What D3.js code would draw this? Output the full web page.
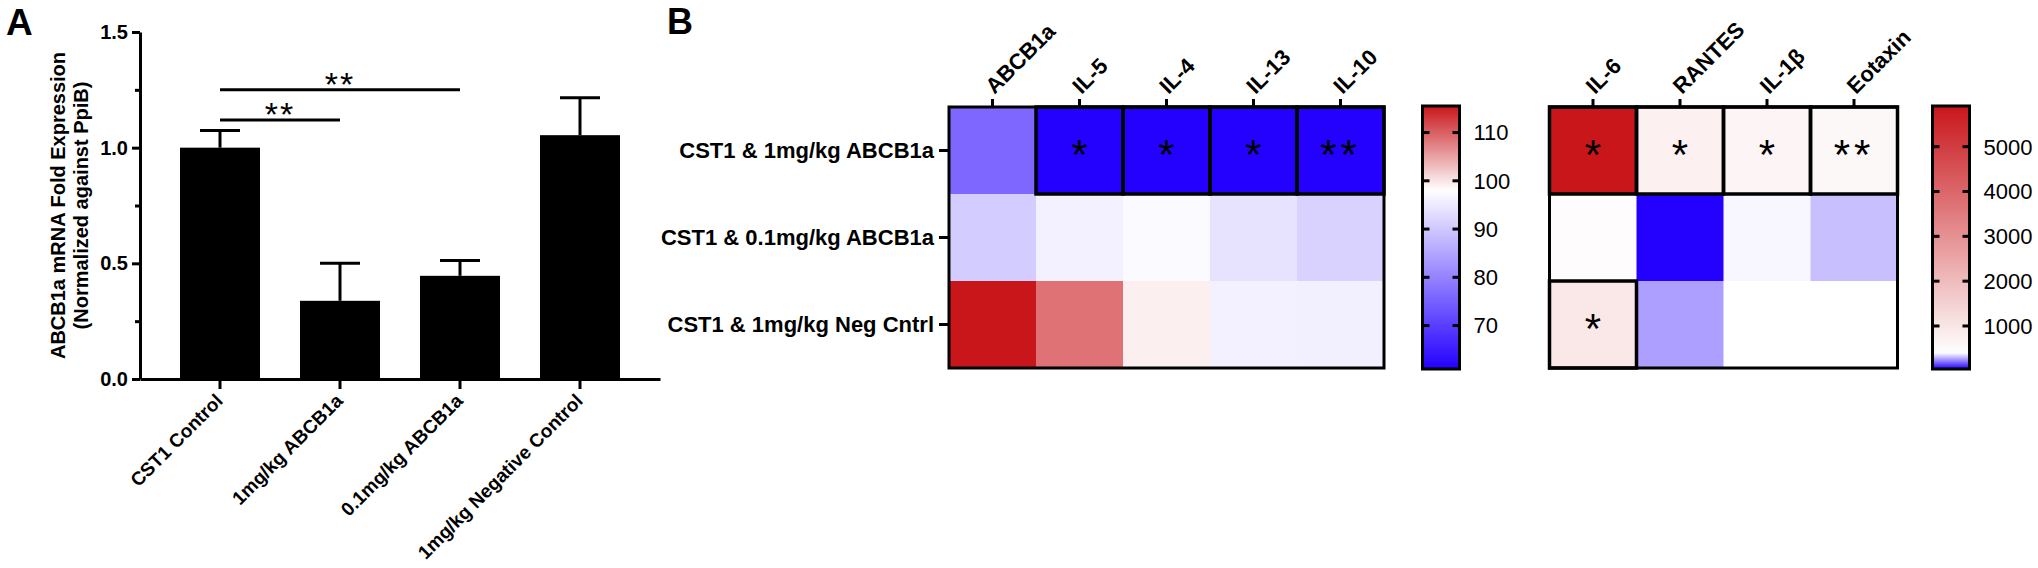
<!DOCTYPE html>
<meta charset="utf-8">
<style>
  body { margin: 0; background: #fff; }
  svg { display: block; font-family: "Liberation Sans", Arial, Helvetica, sans-serif; }
  .axis path, .axis line { stroke: #000; stroke-width: 3; }
</style>
<body>
<div id="chart"></div>
<script src="https://cdn.jsdelivr.net/npm/d3@7"></script>
<script>

// ---- panel A : ABCB1a knockdown (bar chart)
var groups = ["CST1 Control", "1mg/kg ABCB1a", "0.1mg/kg ABCB1a", "1mg/kg Negative Control"];
var foldExpr = [1.0, 0.338, 0.446, 1.054];
var errTop = [1.074, 0.5, 0.512, 1.216];
var yTicks = [0, 0.5, 1.0, 1.5];
var yMinor = [0.25, 0.75, 1.25];
// comparisons: [group a, group b, bar height, label]
var sigPairs = [[0, 1, 1.12, "**"], [0, 2, 1.25, "**"]];

// ---- panel B : heatmaps
var rowLabels = ["CST1 & 1mg/kg ABCB1a", "CST1 & 0.1mg/kg ABCB1a", "CST1 & 1mg/kg Neg Cntrl"];
var genes1 = ["ABCB1a", "IL-5", "IL-4", "IL-13", "IL-10"];
var heat1 = [
  [76, 61, 61, 61, 61],
  [90.6, 96, 97.3, 94, 91.5],
  [115.5, 108.6, 99.2, 96, 95.8]
];
var stars1 = [
  ["", "*", "*", "*", "**"],
  ["", "", "", "", ""],
  ["", "", "", "", ""]
];
var genes2 = ["IL-6", "RANTES", "IL-1β", "Eotaxin"];
var heat2 = [
  [5900, 750, 650, 565],
  [480, 40, 389, 310],
  [950, 264, 400, 405]
];
var stars2 = [
  ["*", "*", "*", "**"],
  ["", "", "", ""],
  ["*", "", "", ""]
];
var legend1 = [70, 80, 90, 100, 110];
var legend2 = [1000, 2000, 3000, 4000, 5000];

var width = 2038, height = 568;

var svg = d3.select("#chart").append("svg")
    .attr("width", width)
    .attr("height", height);

svg.append("rect").attr("width", width).attr("height", height).attr("fill", "#fff");

// panel letters
svg.append("text").attr("x", 6).attr("y", 35)
    .attr("font-size", 37).attr("font-weight", "bold").text("A");
svg.append("text").attr("x", 667).attr("y", 34)
    .attr("font-size", 36).attr("font-weight", "bold").text("B");

// ================= bar chart =================
var x = d3.scaleBand()
    .domain(groups)
    .range([140, 660])
    .paddingInner(1 / 3)
    .paddingOuter(1 / 3);

var y = d3.scaleLinear()
    .domain([0, 1.5])
    .range([379, 32]);

var gA = svg.append("g");

gA.selectAll("rect.bar")
    .data(groups)
  .enter().append("rect")
    .attr("class", "bar")
    .attr("x", function(d) { return x(d); })
    .attr("width", x.bandwidth())
    .attr("y", function(d, i) { return y(foldExpr[i]); })
    .attr("height", function(d, i) { return y(0) - y(foldExpr[i]); })
    .attr("fill", "#000");

// error bars (upper only)
var eb = gA.selectAll("g.err")
    .data(groups)
  .enter().append("g")
    .attr("class", "err")
    .attr("stroke", "#000")
    .attr("stroke-width", 3);
eb.append("line")
    .attr("x1", function(d) { return x(d) + x.bandwidth() / 2; })
    .attr("x2", function(d) { return x(d) + x.bandwidth() / 2; })
    .attr("y1", function(d, i) { return y(foldExpr[i]); })
    .attr("y2", function(d, i) { return y(errTop[i]); });
eb.append("line")
    .attr("x1", function(d) { return x(d) + x.bandwidth() / 4; })
    .attr("x2", function(d) { return x(d) + x.bandwidth() * 3 / 4; })
    .attr("y1", function(d, i) { return y(errTop[i]); })
    .attr("y2", function(d, i) { return y(errTop[i]); });

// y axis
var yAxis = gA.append("g")
    .attr("class", "axis")
    .attr("transform", "translate(140,0)")
    .call(d3.axisLeft(y).tickValues(yTicks).tickFormat(d3.format(".1f")).tickSize(8).tickSizeOuter(0));
yAxis.selectAll("text")
    .attr("font-size", 20).attr("font-weight", "bold").attr("fill", "#000")
    .attr("font-family", "Liberation Sans, Arial, sans-serif")
    .attr("x", -12);
gA.append("g")
    .attr("class", "axis")
    .attr("transform", "translate(140,0)")
    .call(d3.axisLeft(y).tickValues(yMinor).tickFormat("").tickSize(5).tickSizeOuter(0))
    .select(".domain").remove();

// x axis
var xAxis = gA.append("g")
    .attr("class", "axis")
    .attr("transform", "translate(0," + y(0) + ")")
    .call(d3.axisBottom(x).tickSize(10).tickSizeOuter(0));
xAxis.selectAll("text")
    .attr("font-size", 19).attr("font-weight", "bold").attr("fill", "#000")
    .attr("font-family", "Liberation Sans, Arial, sans-serif")
    .attr("text-anchor", "end")
    .attr("x", 0).attr("y", 0).attr("dy", 0)
    .attr("transform", "translate(4,23) rotate(-45)");

// y title
var titleY = (y(0) + y(1.5)) / 2;
gA.append("text")
    .attr("transform", "translate(65," + titleY + ") rotate(-90)")
    .attr("text-anchor", "middle")
    .attr("font-size", 20).attr("font-weight", "bold")
    .text("ABCB1a mRNA Fold Expression");
gA.append("text")
    .attr("transform", "translate(88," + titleY + ") rotate(-90)")
    .attr("text-anchor", "middle")
    .attr("font-size", 20).attr("font-weight", "bold")
    .text("(Normalized against PpiB)");

// significance bars
var sig = gA.selectAll("g.sig")
    .data(sigPairs)
  .enter().append("g")
    .attr("class", "sig");
sig.append("line")
    .attr("x1", function(d) { return x(groups[d[0]]) + x.bandwidth() / 2; })
    .attr("x2", function(d) { return x(groups[d[1]]) + x.bandwidth() / 2; })
    .attr("y1", function(d) { return y(d[2]); })
    .attr("y2", function(d) { return y(d[2]); })
    .attr("stroke", "#000").attr("stroke-width", 3);
sig.append("text")
    .attr("x", function(d) { return (x(groups[d[0]]) + x(groups[d[1]])) / 2 + x.bandwidth() / 2; })
    .attr("y", function(d) { return y(d[2]) - 13 + 0.575 * 34; })
    .attr("text-anchor", "middle")
    .attr("font-size", 34)
    .attr("letter-spacing", 2)
    .text(function(d) { return d[3]; });

// ================= heatmaps =================
var blue = "#2400ff", white = "#ffffff", red = "#c8161b";
var color1 = d3.scaleLinear().domain([61, 98, 115.5]).range([blue, white, red]).clamp(true);
var color2 = d3.scaleLinear().domain([40, 400, 5908]).range([blue, white, red]).clamp(true);

var yRow = d3.scaleBand().domain(rowLabels).range([107, 368]);

function heatmap(x0, genes, data, stars, color, showRows) {
  var cell = yRow.bandwidth();
  var xc = d3.scaleBand().domain(genes).range([x0, x0 + cell * genes.length]);
  var g = svg.append("g");

  data.forEach(function(row, r) {
    g.selectAll(null)
        .data(row)
      .enter().append("rect")
        .attr("x", function(d, c) { return xc(genes[c]); })
        .attr("y", yRow(rowLabels[r]))
        .attr("width", xc.bandwidth() + 0.5)
        .attr("height", cell + 0.5)
        .attr("fill", function(d) { return color(d); });
  });

  // outer frame
  g.append("rect")
      .attr("x", xc.range()[0]).attr("y", yRow.range()[0])
      .attr("width", xc.range()[1] - xc.range()[0])
      .attr("height", yRow.range()[1] - yRow.range()[0])
      .attr("fill", "none").attr("stroke", "#000").attr("stroke-width", 3);

  // significance boxes + stars
  stars.forEach(function(row, r) {
    row.forEach(function(s, c) {
      if (!s) return;
      g.append("rect")
          .attr("x", xc(genes[c])).attr("y", yRow(rowLabels[r]))
          .attr("width", xc.bandwidth()).attr("height", cell)
          .attr("fill", "none").attr("stroke", "#000").attr("stroke-width", 3.5);
      g.append("text")
          .attr("x", xc(genes[c]) + xc.bandwidth() / 2)
          .attr("y", yRow(rowLabels[r]) + cell / 2 - 6 + 0.575 * 42)
          .attr("text-anchor", "middle")
          .attr("font-size", 42)
          .attr("letter-spacing", s.length > 1 ? 4 : 0)
          .text(s);
    });
  });

  // column labels
  var top = g.append("g")
      .attr("class", "axis")
      .attr("transform", "translate(0," + yRow.range()[0] + ")")
      .call(d3.axisTop(xc).tickSize(8).tickSizeOuter(0));
  top.select(".domain").remove();
  top.selectAll("text")
      .attr("font-size", 22).attr("font-weight", "bold").attr("fill", "#000")
      .attr("font-family", "Liberation Sans, Arial, sans-serif")
      .attr("text-anchor", "start")
      .attr("x", 0).attr("y", 0).attr("dy", 0)
      .attr("transform", "translate(2,-12) rotate(-45)");

  if (showRows) {
    var left = g.append("g")
        .attr("class", "axis")
        .attr("transform", "translate(" + xc.range()[0] + ",0)")
        .call(d3.axisLeft(yRow).tickSize(10).tickSizeOuter(0));
    left.select(".domain").remove();
    left.selectAll("text")
        .attr("font-size", 22).attr("font-weight", "bold").attr("fill", "#000")
        .attr("font-family", "Liberation Sans, Arial, sans-serif")
        .attr("x", -15);
  }
}

function colorLegend(id, x0, color, ticks) {
  var dom = color.domain();
  var ys = d3.scaleLinear().domain([dom[0], dom[dom.length - 1]]).range([369, 106]);
  var grad = svg.append("defs").append("linearGradient")
      .attr("id", id)
      .attr("x1", 0).attr("y1", 1).attr("x2", 0).attr("y2", 0);
  d3.range(0, 1.0001, 0.02).forEach(function(t) {
    grad.append("stop")
        .attr("offset", t)
        .attr("stop-color", color(ys.invert(369 - t * 263)));
  });
  var g = svg.append("g");
  var w = 37;
  g.append("rect")
      .attr("x", x0).attr("y", ys.range()[1])
      .attr("width", w).attr("height", ys.range()[0] - ys.range()[1])
      .attr("fill", "url(#" + id + ")")
      .attr("stroke", "#000").attr("stroke-width", 3);
  g.selectAll("line.l").data(ticks).enter().append("line")
      .attr("x1", x0).attr("x2", x0 + 7)
      .attr("y1", function(d) { return ys(d); }).attr("y2", function(d) { return ys(d); })
      .attr("stroke", "#000").attr("stroke-width", 3);
  g.selectAll("line.r").data(ticks).enter().append("line")
      .attr("x1", x0 + w - 7).attr("x2", x0 + w)
      .attr("y1", function(d) { return ys(d); }).attr("y2", function(d) { return ys(d); })
      .attr("stroke", "#000").attr("stroke-width", 3);
  g.selectAll("text").data(ticks).enter().append("text")
      .attr("x", x0 + w + 14)
      .attr("y", function(d) { return ys(d); })
      .attr("dy", "0.36em")
      .attr("font-size", 22)
      .text(function(d) { return d; });
}

heatmap(949, genes1, heat1, stars1, color1, true);
heatmap(1549.5, genes2, heat2, stars2, color2, false);
colorLegend("grad1", 1422.5, color1, legend1);
colorLegend("grad2", 1932.5, color2, legend2);

</script>
</body>
